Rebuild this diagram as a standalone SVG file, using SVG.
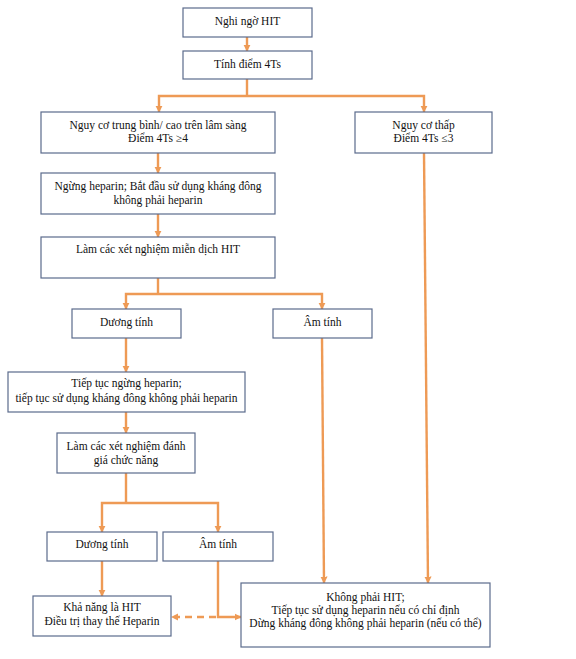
<svg xmlns="http://www.w3.org/2000/svg" width="576" height="659" viewBox="0 0 576 659">
<defs>
<marker id="ah" viewBox="0 0 10 10" refX="9" refY="5" markerWidth="3" markerHeight="3" orient="auto" markerUnits="strokeWidth">
<path d="M0,0 L10,5 L0,10 z" fill="#EE9A55"/>
</marker>
<style>
.box{fill:#fff;stroke:#5B6B8C;stroke-width:1.2}
.t{font-family:"Liberation Serif","Times New Roman",serif;font-size:11.5px;fill:#111;text-anchor:middle}
.c{fill:none;stroke:#EE9A55;stroke-width:2.4}
.ca{fill:none;stroke:#EE9A55;stroke-width:2.4;marker-end:url(#ah)}
.cd{fill:none;stroke:#EE9A55;stroke-width:2.4;stroke-dasharray:7,5}
</style>
</defs>
<rect width="576" height="659" fill="#fff"/>
<g id="connectors">
<line class="ca" x1="247" y1="37" x2="247" y2="51"/>
<polyline class="c" points="247,79 247,96"/>
<polyline class="ca" points="247,96 159,96 159,112"/>
<polyline class="ca" points="247,96 424,96 424,112"/>
<line class="ca" x1="158" y1="153" x2="158" y2="173"/>
<line class="ca" x1="158" y1="214" x2="158" y2="237"/>
<polyline class="c" points="158,278 158,294"/>
<polyline class="ca" points="158,294 126,294 126,309"/>
<polyline class="ca" points="158,294 322,294 322,309"/>
<line class="ca" x1="126" y1="338" x2="126" y2="372"/>
<line class="ca" x1="126" y1="412" x2="126" y2="433"/>
<polyline class="c" points="126,473 126,503"/>
<polyline class="ca" points="126,503 102,503 102,532"/>
<polyline class="ca" points="126,503 218,503 218,532"/>
<line class="ca" x1="102" y1="561" x2="102" y2="596"/>
<line class="ca" x1="322" y1="338" x2="324" y2="583"/>
<line class="ca" x1="424" y1="153" x2="428" y2="583"/>
<polyline class="ca" points="218,561 218,617 241,617"/>
<line class="cd" x1="216" y1="617" x2="178" y2="617"/>
<path d="M171,617 L178,613.5 L178,620.5 z" fill="#EE9A55"/>
</g>
<g id="n1"><rect class="box" x="183" y="8" width="129" height="29"/><text class="t" x="247.5" y="25">Nghi ngờ HIT</text></g>
<g id="n2"><rect class="box" x="183" y="51" width="129" height="28"/><text class="t" x="247.5" y="68">Tính điểm 4Ts</text></g>
<g id="n3"><rect class="box" x="41" y="112" width="234" height="41"/><text class="t" x="158" y="129">Nguy cơ trung bình/ cao trên lâm sàng</text><text class="t" x="158" y="142">Điểm 4Ts ≥4</text></g>
<g id="n4"><rect class="box" x="355" y="112" width="137" height="41"/><text class="t" x="423.5" y="129">Nguy cơ thấp</text><text class="t" x="423.5" y="142">Điểm 4Ts ≤3</text></g>
<g id="n5"><rect class="box" x="41" y="173" width="234" height="41"/><text class="t" x="158" y="190">Ngừng heparin; Bắt đầu sử dụng kháng đông</text><text class="t" x="158" y="204">không phải heparin</text></g>
<g id="n6"><rect class="box" x="41" y="237" width="234" height="41"/><text class="t" x="158" y="253">Làm các xét nghiệm miễn dịch HIT</text></g>
<g id="n7"><rect class="box" x="72" y="309" width="109" height="29"/><text class="t" x="126.5" y="326">Dương tính</text></g>
<g id="n8"><rect class="box" x="273" y="309" width="99" height="29"/><text class="t" x="322.5" y="326">Âm tính</text></g>
<g id="n9"><rect class="box" x="8" y="372" width="237" height="40"/><text class="t" x="126.5" y="387">Tiếp tục ngừng heparin;</text><text class="t" x="126.5" y="402">tiếp tục sử dụng kháng đông không phải heparin</text></g>
<g id="n10"><rect class="box" x="57" y="433" width="138" height="40"/><text class="t" x="126" y="450">Làm các xét nghiệm đánh</text><text class="t" x="126" y="464">giá chức năng</text></g>
<g id="n11"><rect class="box" x="47" y="532" width="110" height="29"/><text class="t" x="102" y="548">Dương tính</text></g>
<g id="n12"><rect class="box" x="163" y="532" width="110" height="29"/><text class="t" x="218" y="548">Âm tính</text></g>
<g id="n13"><rect class="box" x="33" y="596" width="138" height="40"/><text class="t" x="102" y="611">Khả năng là HIT</text><text class="t" x="102" y="625">Điều trị thay thế Heparin</text></g>
<g id="n14"><rect class="box" x="241" y="583" width="249" height="64"/><text class="t" x="365.5" y="601">Không phải HIT;</text><text class="t" x="365.5" y="614">Tiếp tục sử dụng heparin nếu có chỉ định</text><text class="t" x="365.5" y="627">Dừng kháng đông không phải heparin (nếu có thể)</text></g>
</svg>
